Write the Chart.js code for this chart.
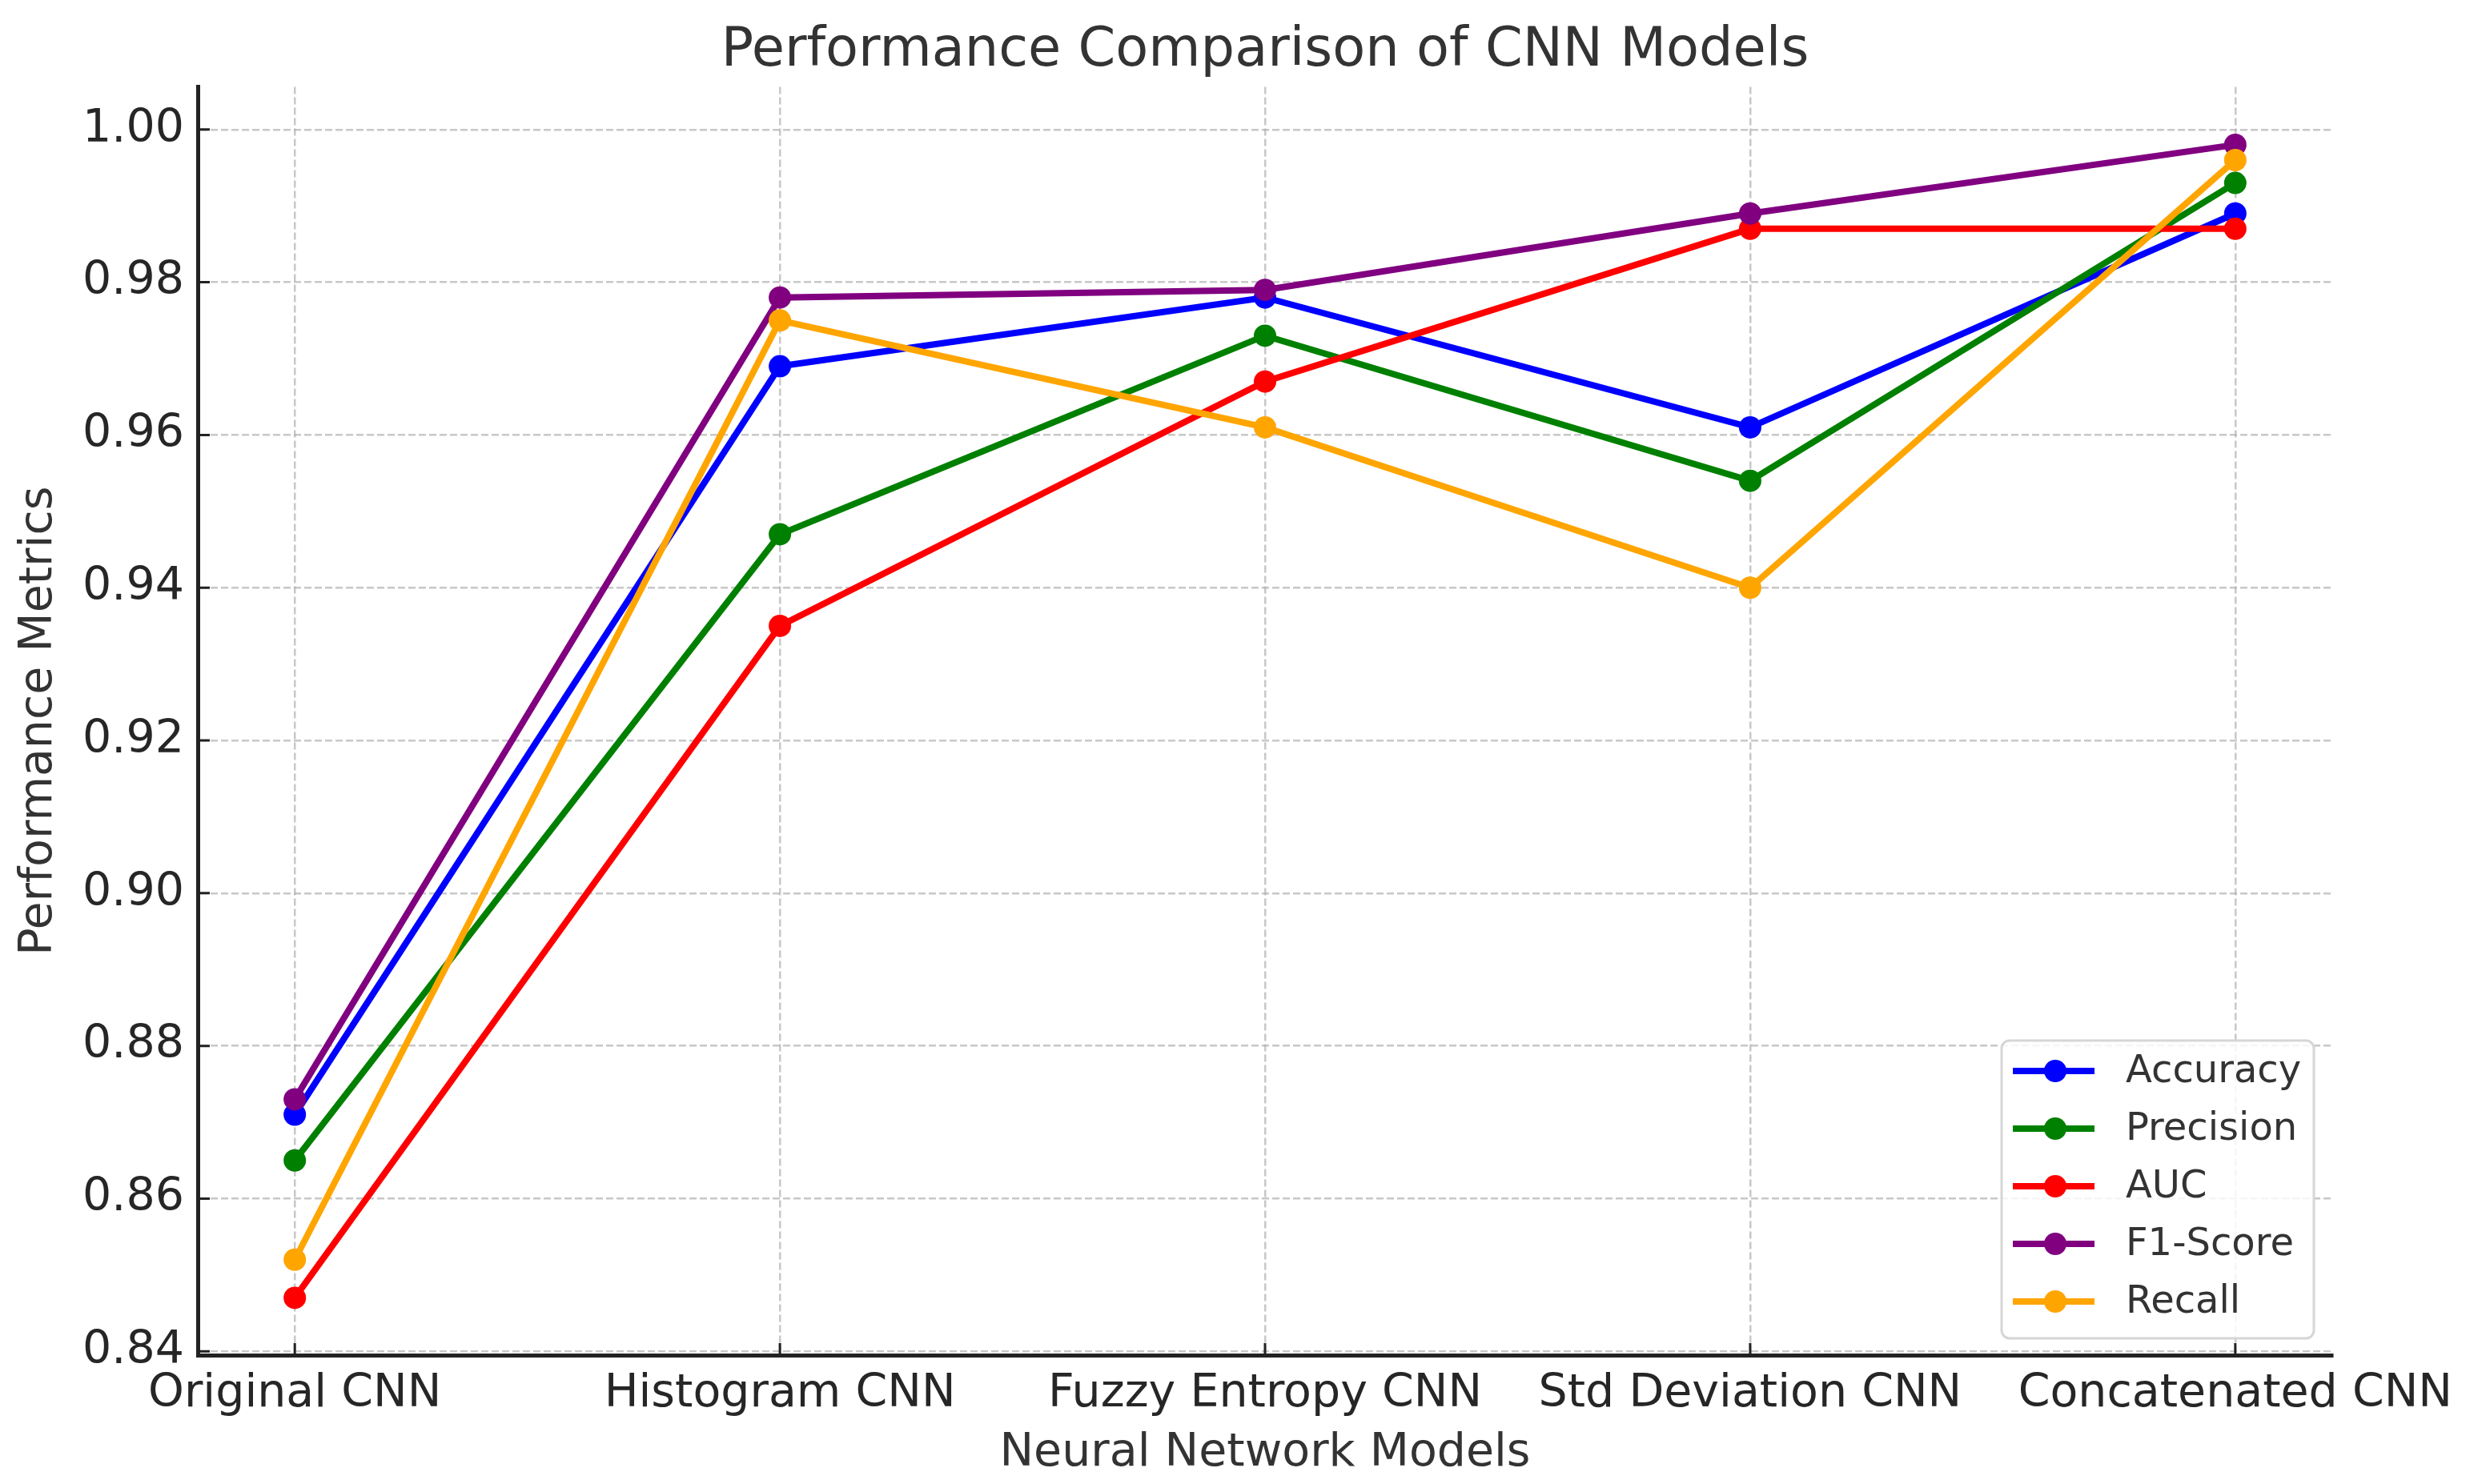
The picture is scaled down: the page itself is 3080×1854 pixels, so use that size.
<!DOCTYPE html>
<html>
<head>
<meta charset="utf-8">
<script src="https://cdn.jsdelivr.net/npm/chart.js@4.4.1/dist/chart.umd.min.js"></script>
<style>
  html, body { margin: 0; padding: 0; background: #fff; }
  #wrap { width: 3080px; height: 1854px; }
</style>
</head>
<body>
<div id="wrap"><canvas id="perf-chart"></canvas></div>
<script>
// --- data ---
const models = ['Original CNN', 'Histogram CNN', 'Fuzzy Entropy CNN', 'Std Deviation CNN', 'Concatenated CNN'];
const accuracy  = [0.871, 0.969, 0.978, 0.961, 0.989];
const precision = [0.865, 0.947, 0.973, 0.954, 0.993];
const auc       = [0.847, 0.935, 0.967, 0.987, 0.987];
const f1Score   = [0.873, 0.978, 0.979, 0.989, 0.998];
const recall    = [0.852, 0.975, 0.961, 0.940, 0.996];
const yTicks = [0.84, 0.86, 0.88, 0.90, 0.92, 0.94, 0.96, 0.98, 1.00];

const seriesList = [
    { label: 'Accuracy',  values: accuracy,  color: '#0000ff' },
    { label: 'Precision', values: precision, color: '#008000' },
    { label: 'AUC',       values: auc,       color: '#ff0000' },
    { label: 'F1-Score',  values: f1Score,   color: '#800080' },
    { label: 'Recall',    values: recall,    color: '#ffa500' },
];

const FONT = "'DejaVu Sans', Verdana, sans-serif";
const TEXT_COLOR = '#262626';

// ticks pointing into the plot, like the original
const innerTicks = {
    id: 'innerTicks',
    afterDraw(chart) {
        const { ctx, chartArea, scales } = chart;
        ctx.save();
        ctx.strokeStyle = '#222';
        ctx.lineWidth = 3;
        ctx.beginPath();
        scales.y.ticks.forEach(t => {
            const y = scales.y.getPixelForValue(t.value);
            ctx.moveTo(chartArea.left, y);
            ctx.lineTo(chartArea.left + 15, y);
        });
        scales.x.ticks.forEach(t => {
            const x = scales.x.getPixelForValue(t.value);
            ctx.moveTo(x, chartArea.bottom);
            ctx.lineTo(x, chartArea.bottom - 15);
        });
        ctx.stroke();
        ctx.restore();
    }
};

// legend box in the lower right, line + marker per series
const cornerLegend = {
    id: 'cornerLegend',
    afterDraw(chart) {
        const { ctx, chartArea } = chart;
        const boxW = 390, rowH = 72, boxH = 372;
        const x0 = chartArea.right - 23 - boxW;
        const y0 = chartArea.bottom - 21 - boxH;
        ctx.save();
        ctx.fillStyle = 'rgba(255,255,255,0.85)';
        ctx.strokeStyle = '#d6d6d6';
        ctx.lineWidth = 3;
        ctx.beginPath();
        ctx.roundRect(x0, y0, boxW, boxH, 10);
        ctx.fill();
        ctx.stroke();
        ctx.font = `48px ${FONT}`;
        ctx.textBaseline = 'middle';
        seriesList.forEach((s, i) => {
            const cy = y0 + 38 + i * rowH;
            ctx.strokeStyle = s.color;
            ctx.lineWidth = 8;
            ctx.beginPath();
            ctx.moveTo(x0 + 14, cy);
            ctx.lineTo(x0 + 116, cy);
            ctx.stroke();
            ctx.fillStyle = s.color;
            ctx.beginPath();
            ctx.arc(x0 + 67, cy, 14, 0, Math.PI * 2);
            ctx.fill();
            ctx.fillStyle = '#333';
            ctx.fillText(s.label, x0 + 155, cy + 2);
        });
        ctx.restore();
    }
};

const gridStyle = { color: 'rgba(176,176,176,0.7)', lineWidth: 2.5, drawTicks: false };
const borderStyle = { display: true, color: '#222', width: 5, dash: [9, 4] };

new Chart(document.getElementById('perf-chart'), {
    type: 'line',
    data: {
        datasets: seriesList.map((s, i) => ({
            label: s.label,
            data: s.values.map((v, j) => ({ x: j, y: v })),
            borderColor: s.color,
            backgroundColor: s.color,
            borderWidth: 8,
            pointRadius: 14,
            pointBorderWidth: 0,
            pointBackgroundColor: s.color,
            tension: 0,
            order: seriesList.length - i,   // later series on top
        }))
    },
    options: {
        responsive: true,
        maintainAspectRatio: false,
        devicePixelRatio: 1,
        animation: false,
        layout: { padding: { left: 0, right: 167, top: 0, bottom: 0 } },
        scales: {
            x: {
                type: 'linear',
                min: -0.2,
                max: 4.2,
                afterBuildTicks: scale => { scale.ticks = models.map((m, i) => ({ value: i })); },
                afterFit: scale => {
                    scale.height = 161;
                    scale.paddingLeft = 0;
                    scale.paddingRight = 0;
                },
                grid: gridStyle,
                border: borderStyle,
                ticks: {
                    autoSkip: false,
                    maxRotation: 0,
                    padding: 15,
                    color: TEXT_COLOR,
                    font: { family: FONT, size: 57 },
                    callback: value => models[value]
                },
                title: {
                    display: true,
                    text: 'Neural Network Models',
                    color: '#333',
                    font: { family: FONT, size: 57 },
                    padding: { top: 0, bottom: 4 }
                }
            },
            y: {
                min: 0.8395,
                max: 1.0056,
                afterBuildTicks: scale => { scale.ticks = yTicks.map(v => ({ value: v })); },
                afterFit: scale => {
                    scale.width = 247;
                    scale.paddingTop = 0;
                    scale.paddingBottom = 0;
                },
                grid: gridStyle,
                border: borderStyle,
                ticks: {
                    padding: 17,
                    color: TEXT_COLOR,
                    font: { family: FONT, size: 57 },
                    callback: value => Number(value).toFixed(2)
                },
                title: {
                    display: true,
                    text: 'Performance Metrics',
                    color: '#333',
                    font: { family: FONT, size: 57 },
                    padding: { top: 15, bottom: 0 }
                }
            }
        },
        plugins: {
            legend: { display: false },
            tooltip: { enabled: false },
            title: {
                display: true,
                fullSize: false,
                text: 'Performance Comparison of CNN Models',
                color: '#333',
                font: { family: FONT, size: 67, weight: 'normal' },
                padding: { top: 24, bottom: 4 }
            }
        }
    },
    plugins: [innerTicks, cornerLegend]
});
</script>
</body>
</html>
